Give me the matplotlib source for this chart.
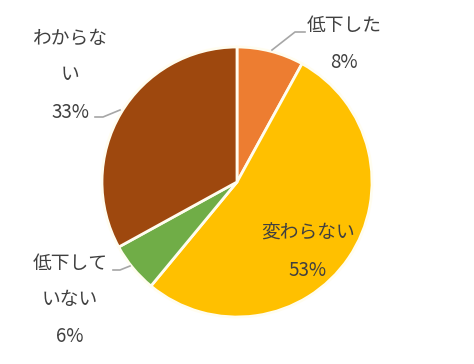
import matplotlib.pyplot as plt

plt.rcParams['font.family'] = ['Noto Sans CJK JP', 'DejaVu Sans']

labels = ['低下した', '変わらない', '低下して\nいない', 'わからな\nい']
values = [8, 53, 6, 33]
colors = ['#ED7D31', '#FFC000', '#70AD47', '#9E480E']

fig = plt.figure(figsize=(4.74, 3.64), dpi=100)
ax = fig.add_axes([0, 0, 1, 1])

H = 364
cx, cy, r = 237, H - 182, 135
ax.pie(values, colors=colors, startangle=90, counterclock=False,
       center=(cx, cy), radius=r, frame=True,
       wedgeprops=dict(edgecolor='#FFFDF0', linewidth=2))
ax.set_xlim(0, 474)
ax.set_ylim(0, 364)
ax.set_aspect('equal')
ax.axis('off')

# label centres (pixel coords from top); each line drawn 37px apart
pos = [(344, 43.5), (308, 252), (70, 300), (70, 75)]
for lab, v, (x, y) in zip(labels, values, pos):
    lines = lab.split('\n') + [f'{v}%']
    n = len(lines)
    for i, s in enumerate(lines):
        yy = y + (i - (n - 1) / 2) * 37
        ax.text(x, H - yy, s, fontsize=13.5, color='#404040',
                ha='center', va='center')

lc = dict(color='#A6A6A6', linewidth=1.2)
ax.plot([272, 295, 305], [H - 50, H - 32, H - 32], **lc)
ax.plot([95, 103, 120], [H - 117, H - 117, H - 110], **lc)
ax.plot([113, 120, 130], [H - 270, H - 270, H - 266], **lc)

fig.savefig('out.png', dpi=100)
